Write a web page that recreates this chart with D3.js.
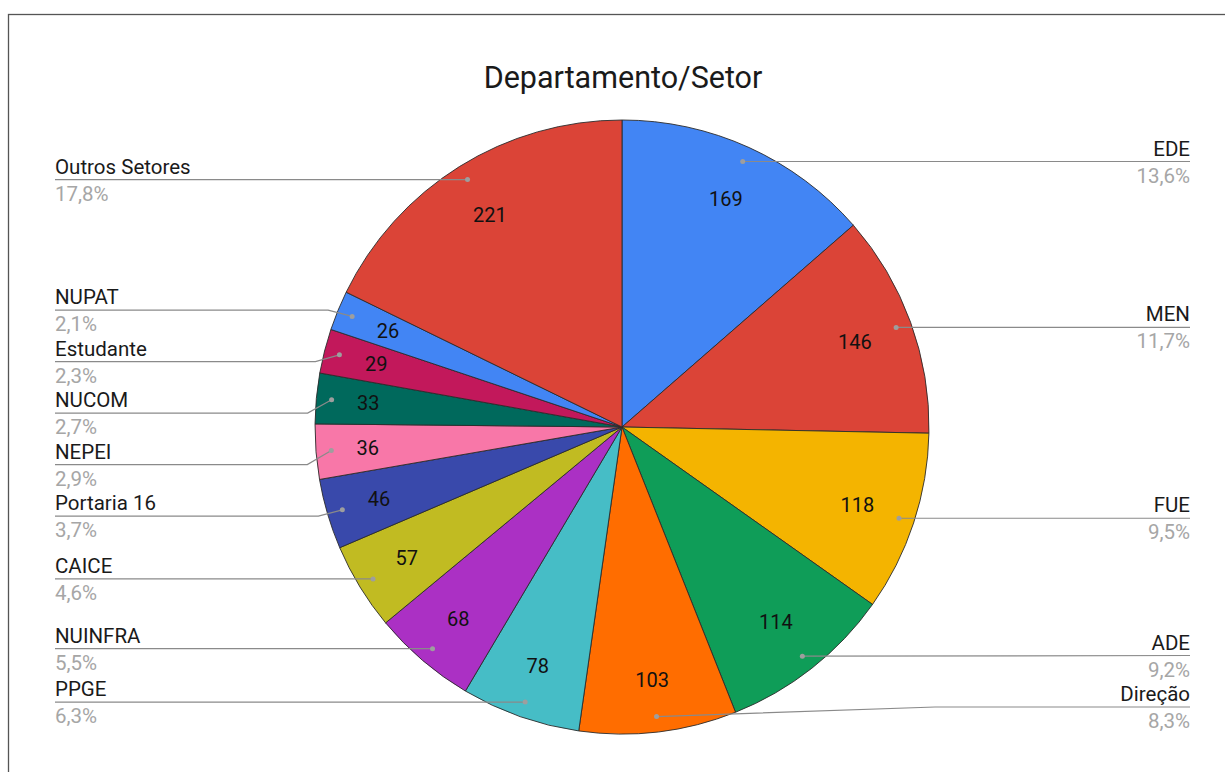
<!DOCTYPE html>
<html>
<head>
<meta charset="utf-8">
<script src="https://cdn.jsdelivr.net/npm/d3@7"></script>
<style>
  body { margin: 0; background: #fff; }
  svg { display: block; font-family: Roboto, "Noto Sans", sans-serif; }
</style>
</head>
<body>
<script>
var categories = ['EDE', 'MEN', 'FUE', 'ADE', 'Direção', 'PPGE', 'NUINFRA', 'CAICE', 'Portaria 16', 'NEPEI', 'NUCOM', 'Estudante', 'NUPAT', 'Outros Setores'];
var values = [169, 146, 118, 114, 103, 78, 68, 57, 46, 36, 33, 29, 26, 221];
var colors = ['#4285f4', '#db4437', '#f4b400', '#0f9d58', '#ff6d00', '#46bdc6', '#ab30c4', '#c1bb22', '#3949ab', '#f877a8', '#00695c', '#c2185b', '#4285f4', '#db4437'];
var title = 'Departamento/Setor';

var width = 1225, height = 772,
	cx = 622, cy = 427, radius = 307,
	leftX = 55, rightX = 1190, gap = 51.5, maxLineY = 707,
	valRadius = 267; // value text boxes are kept inside this circle

var svg = d3.select('body').append('svg').attr('width', width).attr('height', height);

// frame (continues past the bottom/right edge of the picture)
svg.append('rect').attr('x', 8.5).attr('y', 14.5).attr('width', 1240).attr('height', 800)
	.attr('fill', 'none').attr('stroke', '#555').attr('stroke-width', 1.3);

svg.append('text').attr('x', 623).attr('y', 88).attr('text-anchor', 'middle')
	.attr('font-size', 30.5).attr('fill', '#1a1a1a').text(title);

var total = d3.sum(values);
var pie = d3.pie().sort(null).value(function(d) { return d.value; });
var slices = pie(categories.map(function(c, i) { return {name: c, value: values[i], color: colors[i]}; }));

var arc = d3.arc().innerRadius(0).outerRadius(radius);
var dotArc = d3.arc().innerRadius(radius * 0.95).outerRadius(radius * 0.95);

var g = svg.append('g').attr('transform', 'translate(' + cx + ',' + cy + ')');

g.selectAll('path.slice').data(slices).enter().append('path')
	.attr('class', 'slice')
	.attr('d', arc)
	.attr('fill', function(d) { return d.data.color; })
	.attr('stroke', '#2b2b2b').attr('stroke-width', 0.9).attr('stroke-linejoin', 'round');

g.selectAll('text.val').data(slices).enter().append('text')
	.attr('class', 'val')
	.attr('text-anchor', 'middle').attr('dy', '0.35em')
	.attr('font-size', 20).attr('fill', '#111')
	.text(function(d) { return d.value; })
	.attr('transform', function(d) {
		var a = (d.startAngle + d.endAngle) / 2,
			ux = Math.sin(a), uy = -Math.cos(a),
			hw = this.getComputedTextLength() / 2, hh = 10,
			r = valRadius - (hw * Math.abs(ux) + hh * Math.abs(uy));
		return 'translate(' + (r * ux) + ',' + (r * uy) + ')';
	});

// label positions: start at the dot, clamp, then spread overlapping groups
slices.forEach(function(d) {
	var p = dotArc.centroid(d);
	d.dot = [cx + p[0], cy + p[1]];
	d.side = (d.startAngle + d.endAngle) / 2 < Math.PI ? 'right' : 'left';
	d.ly = Math.min(d.dot[1], maxLineY);
});

function spread(list) {
	list.sort(function(a, b) { return a.dot[1] - b.dot[1]; });
	var groups = list.map(function(d) { return {items: [d], lo: d.ly, hi: d.ly, min: d.ly, max: d.ly}; });
	var changed = true;
	while (changed) {
		changed = false;
		for (var i = 0; i < groups.length - 1; i++) {
			var a = groups[i], b = groups[i + 1];
			if (b.lo - a.hi < gap - 0.01) {
				var items = a.items.concat(b.items),
					mn = Math.min(a.min, b.min), mx = Math.max(a.max, b.max),
					span = (items.length - 1) * gap,
					mid = (mn + mx) / 2,
					lo = Math.min(mid - span / 2, maxLineY - span);
				groups.splice(i, 2, {items: items, lo: lo, hi: lo + span, min: mn, max: mx});
				changed = true;
				break;
			}
		}
	}
	groups.forEach(function(gr) {
		gr.items.forEach(function(d, k) { d.ly = gr.lo + k * gap; });
	});
}
spread(slices.filter(function(d) { return d.side === 'left'; }));
spread(slices.filter(function(d) { return d.side === 'right'; }));

var labels = svg.append('g').selectAll('g.label').data(slices).enter().append('g').attr('class', 'label');

labels.append('polyline')
	.attr('points', function(d) {
		var left = d.side === 'left',
			edge = left ? d.dot[0] - 24 : cx + radius + 6,
			end = left ? leftX : rightX;
		if (Math.abs(d.ly - d.dot[1]) < 1) return [[end, d.ly], d.dot].join(' ');
		return [[end, d.ly], [edge, d.ly], d.dot].join(' ');
	})
	.attr('fill', 'none').attr('stroke', '#8a8a8a').attr('stroke-width', 1.2);

labels.append('circle')
	.attr('cx', function(d) { return d.dot[0]; })
	.attr('cy', function(d) { return d.dot[1]; })
	.attr('r', 2.5).attr('fill', '#9e9e9e');

labels.append('text')
	.attr('x', function(d) { return d.side === 'left' ? leftX : rightX; })
	.attr('y', function(d) { return d.ly - 6; })
	.attr('text-anchor', function(d) { return d.side === 'left' ? 'start' : 'end'; })
	.attr('font-size', 20.5).attr('fill', '#1a1a1a')
	.text(function(d) { return d.data.name; });

labels.append('text')
	.attr('x', function(d) { return d.side === 'left' ? leftX : rightX; })
	.attr('y', function(d) { return d.ly + 21; })
	.attr('text-anchor', function(d) { return d.side === 'left' ? 'start' : 'end'; })
	.attr('font-size', 20.5).attr('fill', '#a6a6a6')
	.text(function(d) { return (d.value / total * 100).toFixed(1).replace('.', ',') + '%'; });
</script>
</body>
</html>
